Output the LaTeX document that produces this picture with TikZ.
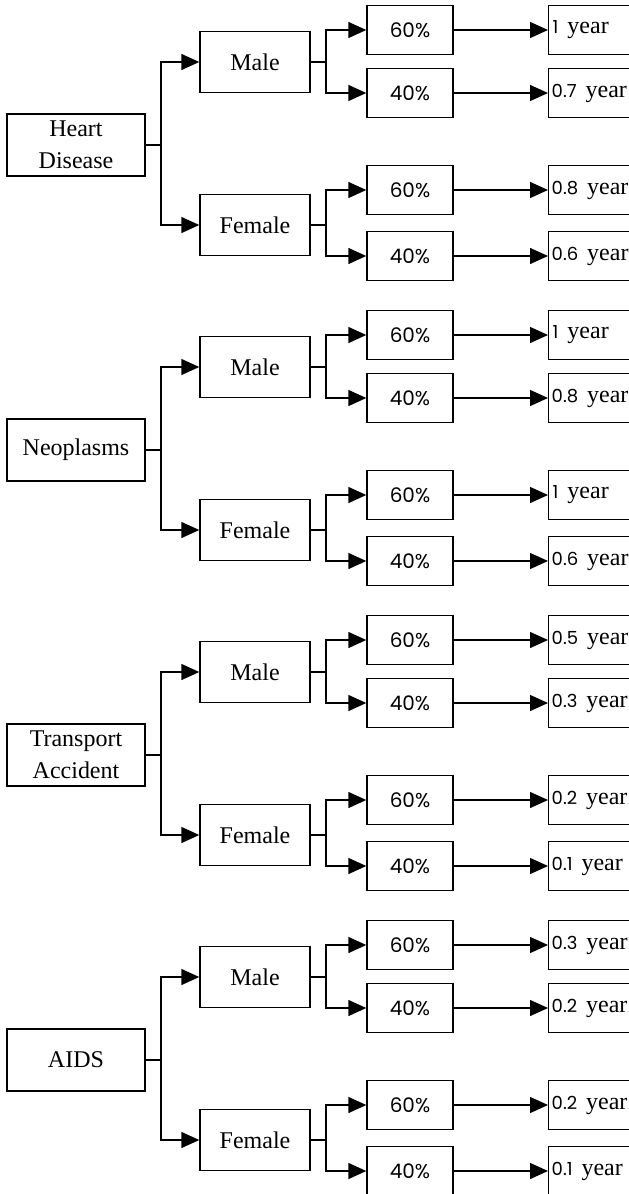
\documentclass[tikz,border=0pt]{standalone}
\usepackage{fontspec}
\setmainfont{Liberation Serif}
\newfontfamily\pf{Poppins}
\usetikzlibrary{arrows.meta,calc}
\tikzset{
 box/.style={draw,line width=1.4pt,rectangle,inner sep=0pt},
 catbox/.style={box,minimum width=138pt,minimum height=62pt,align=center,font=\fontsize{24}{32}\selectfont},
 sexbox/.style={box,minimum width=110pt,minimum height=61pt,font=\fontsize{24}{28}\selectfont},
 pctbox/.style={box,minimum width=86pt,minimum height=49pt,font=\pf\fontsize{20}{24}\selectfont},
 yrbox/.style={box,anchor=west,minimum height=49pt,text width=200pt,align=left,inner xsep=3pt,font=\fontsize{24}{26}\selectfont},
 conn/.style={line width=1.4pt,-{Triangle[length=18pt,width=16pt]}},
 link/.style={line width=1.4pt},
}
\newcommand\yr[1]{{\pf\fontsize{18}{20}\selectfont #1}\hspace{9pt}year}
\newcommand\drawsec[7]{%
 \node[catbox] (c#2) at (76,145+#1) {#3};
 \node[sexbox] (m#2) at (255,62+#1) {Male};
 \node[sexbox] (f#2) at (255,225+#1) {Female};
 \node[pctbox] (pa#2) at (410,30+#1) {60\%};
 \node[pctbox] (pb#2) at (410,93+#1) {40\%};
 \node[pctbox] (pc#2) at (410,190+#1) {60\%};
 \node[pctbox] (pd#2) at (410,256+#1) {40\%};
 \node[yrbox] (ya#2) at (548,30+#1) {#4};
 \node[yrbox] (yb#2) at (548,93+#1) {#5};
 \node[yrbox] (yc#2) at (548,190+#1) {#6};
 \node[yrbox] (yd#2) at (548,256+#1) {#7};
 \coordinate (j#2) at (161,145+#1);
 \draw[link] (c#2.east) -- (j#2);
 \draw[conn] (j#2) |- (m#2.west);
 \draw[conn] (j#2) |- (f#2.west);
 \coordinate (jm#2) at (326,62+#1);
 \draw[link] (m#2.east) -- (jm#2);
 \draw[conn] (jm#2) |- (pa#2.west);
 \draw[conn] (jm#2) |- (pb#2.west);
 \coordinate (jf#2) at (326,225+#1);
 \draw[link] (f#2.east) -- (jf#2);
 \draw[conn] (jf#2) |- (pc#2.west);
 \draw[conn] (jf#2) |- (pd#2.west);
 \draw[conn] (pa#2.east) -- (ya#2.west);
 \draw[conn] (pb#2.east) -- (yb#2.west);
 \draw[conn] (pc#2.east) -- (yc#2.west);
 \draw[conn] (pd#2.east) -- (yd#2.west);
}
\begin{document}
\begin{tikzpicture}[x=1pt,y=-1pt]
\useasboundingbox (0,0) rectangle (629,1194);
\clip (0,0) rectangle (629,1194);
\drawsec{0}{a}{Heart\\Disease}{\hspace*{1pt}\yr{1}}{\yr{0.7}}{\yr{0.8}}{\yr{0.6}}
\drawsec{305}{b}{Neoplasms}{\hspace*{1pt}\yr{1}}{\yr{0.8}}{\hspace*{1pt}\yr{1}}{\yr{0.6}}
\drawsec{610}{c}{Transport\\Accident}{\yr{0.5}}{\yr{0.3}}{\yr{0.2}}{\yr{0.1}}
\drawsec{915}{d}{AIDS}{\yr{0.3}}{\yr{0.2}}{\yr{0.2}}{\yr{0.1}}
\end{tikzpicture}
\end{document}
